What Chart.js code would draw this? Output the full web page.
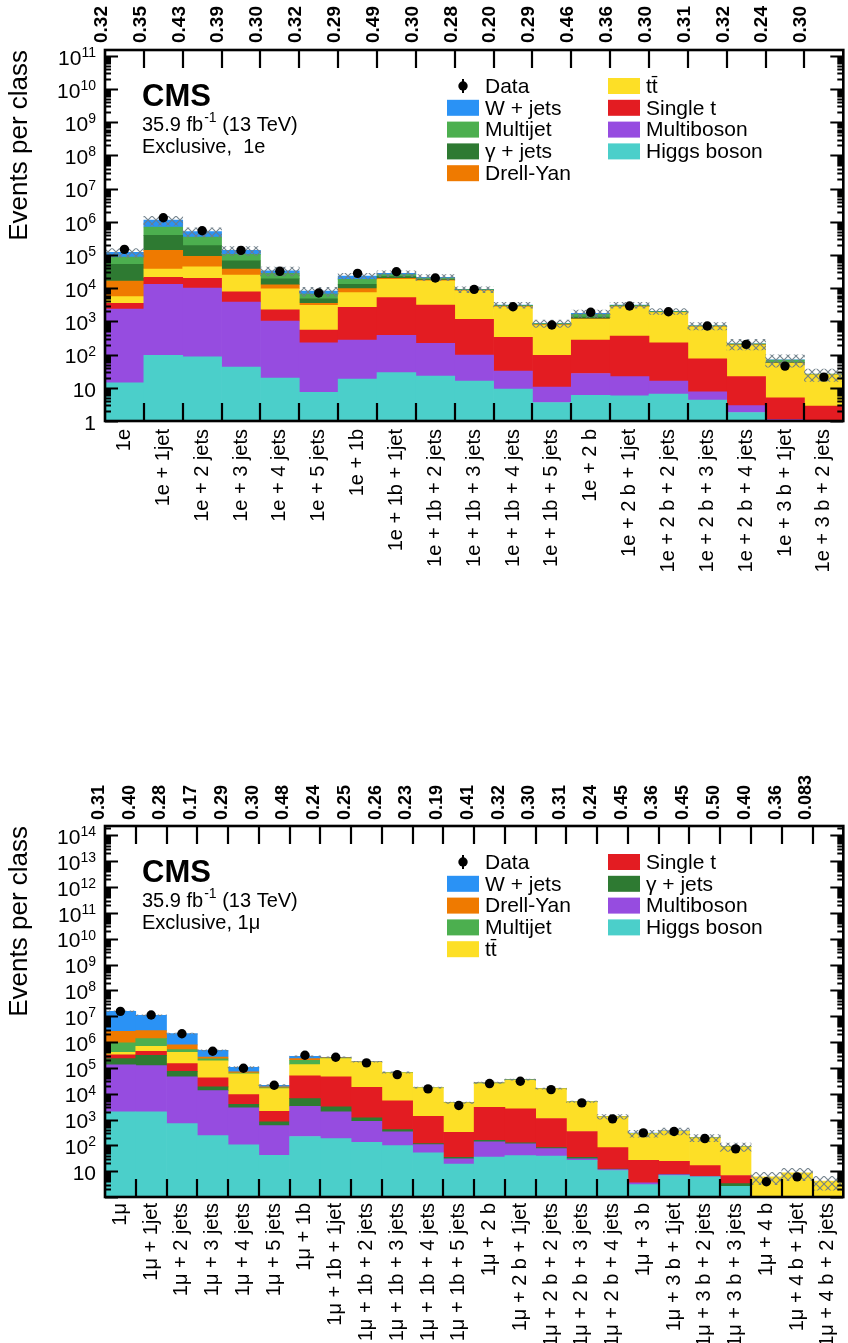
<!DOCTYPE html>
<html>
<head>
<meta charset="utf-8">
<script src="https://cdn.jsdelivr.net/npm/chart.js@4.4.1/dist/chart.umd.min.js"></script>
<style>
  html, body { margin: 0; padding: 0; background: #fff; }
  body { width: 848px; height: 1343px; position: relative; overflow: hidden; }
  .panel { position: absolute; left: 0; }
  #panelE { top: 0; }
  #panelM { top: 720px; }
</style>
</head>
<body>
<div class="panel" id="panelE"><canvas id="chartE" width="848" height="620"></canvas></div>
<div class="panel" id="panelM"><canvas id="chartM" width="848" height="623"></canvas></div>
<script>
const FONT = "'Liberation Sans', Arial, Helvetica, sans-serif";
const yMin = 1;

// ---- 1e channel ----
const classesE = ["1e", "1e + 1jet", "1e + 2 jets", "1e + 3 jets", "1e + 4 jets", "1e + 5 jets",
  "1e + 1b", "1e + 1b + 1jet", "1e + 1b + 2 jets", "1e + 1b + 3 jets", "1e + 1b + 4 jets", "1e + 1b + 5 jets",
  "1e + 2 b", "1e + 2 b + 1jet", "1e + 2 b + 2 jets", "1e + 2 b + 3 jets", "1e + 2 b + 4 jets",
  "1e + 3 b + 1jet", "1e + 3 b + 2 jets"];
const ratiosE = ["0.32", "0.35", "0.43", "0.39", "0.30", "0.32", "0.29", "0.49", "0.30", "0.28",
  "0.20", "0.29", "0.46", "0.36", "0.30", "0.31", "0.32", "0.24", "0.30"];
const yTicksE = [1, 1e1, 1e2, 1e3, 1e4, 1e5, 1e6, 1e7, 1e8, 1e9, 1e10, 1e11];

// stack tops (cumulative), bottom layer first
const higgsE = [14.2, 95, 85, 42, 19.7, 7.3, 18.4, 28.6, 22.7, 16, 9.2, 3.6, 5.9, 5.7, 6.5, 4.3, 1.8, 0, 0];
const multibosonE = [2360, 13100, 10100, 3840, 1030, 228, 275, 380, 219, 97, 32, 10.6, 27, 21.6, 16, 7.6, 2.9, 1.1, 0];
const singleTopE = [3510, 21300, 19800, 7850, 2250, 551, 2660, 5180, 3120, 1160, 332, 95, 275, 363, 228, 74, 21.6, 5.0, 2.8];
const ttbarE = [5560, 37900, 44400, 25000, 9660, 3050, 7340, 18500, 16800, 8410, 2770, 780, 1160, 2770, 1830, 692, 195, 55, 25];
const drellYanE = [16500, 138000, 91300, 37900, 12700, 3510, 9680, 19800, 17600, 8600, 2850, 800, 1200, 2820, 1860, 700, 197, 56, 25];
const gammaJetsE = [52500, 392000, 191000, 67400, 19300, 4830, 13100, 22300, 18600, 8800, 2920, 820, 1350, 2900, 1900, 710, 200, 58, 25.5];
const multijetE = [87000, 697000, 348000, 105000, 28000, 6690, 18500, 25600, 20100, 9100, 3030, 860, 1640, 3050, 1980, 730, 210, 69, 26];
const wJetsE = [121000, 1130000, 504000, 138000, 33600, 8240, 23300, 28000, 21300, 9250, 3120, 875, 1750, 3120, 2020, 740, 212, 70, 26];
const dataE = [148000, 1330000, 540000, 138000, 32300, 7160, 28000, 31400, 20300, 9250, 2770, 780, 1880, 2910, 1960, 727, 204, 45, 21];
const uncE = [0.3, 0.3, 0.3, 0.3, 0.3, 0.3, 0.2, 0.2, 0.2, 0.2, 0.2, 0.25, 0.25, 0.2, 0.2, 0.25, 0.35, 0.4, 0.4];

// ---- 1mu channel ----
const classesM = ["1μ", "1μ + 1jet", "1μ + 2 jets", "1μ + 3 jets", "1μ + 4 jets", "1μ + 5 jets",
  "1μ + 1b", "1μ + 1b + 1jet", "1μ + 1b + 2 jets", "1μ + 1b + 3 jets", "1μ + 1b + 4 jets", "1μ + 1b + 5 jets",
  "1μ + 2 b", "1μ + 2 b + 1jet", "1μ + 2 b + 2 jets", "1μ + 2 b + 3 jets", "1μ + 2 b + 4 jets",
  "1μ + 3 b", "1μ + 3 b + 1jet", "1μ + 3 b + 2 jets", "1μ + 3 b + 3 jets",
  "1μ + 4 b", "1μ + 4 b + 1jet", "1μ + 4 b + 2 jets"];
const ratiosM = ["0.31", "0.40", "0.28", "0.17", "0.29", "0.30", "0.48", "0.24", "0.25", "0.26", "0.23", "0.19",
  "0.41", "0.32", "0.30", "0.31", "0.24", "0.45", "0.36", "0.45", "0.50", "0.40", "0.36", "0.083"];
const yTicksM = [1e1, 1e2, 1e3, 1e4, 1e5, 1e6, 1e7, 1e8, 1e9, 1e10, 1e11, 1e12, 1e13, 1e14];

const higgsM = [1980, 1980, 697, 239, 105, 41, 219, 183, 132, 98, 51, 19, 35, 40, 38, 26, 10.6, 3.0, 6.8, 6.0, 2.6, 0, 0, 0];
const multibosonM = [130000, 122000, 44600, 13200, 2820, 583, 3260, 1980, 857, 333, 107, 30, 137, 114, 75, 30, 11.6, 3.5, 7.4, 6.2, 2.6, 0, 0, 0];
const gammaJetsM = [228000, 307000, 73600, 18300, 3890, 811, 6460, 3080, 1160, 408, 117, 34, 157, 125, 82, 34, 12, 3.5, 7.5, 6.3, 3.3, 0, 0, 0];
const singleTopM = [316000, 437000, 146000, 40700, 9230, 2080, 48800, 44600, 17700, 5260, 1340, 321, 2980, 2580, 1090, 342, 82, 26, 24, 16.5, 6.8, 0, 0, 0];
const ttbarM = [401000, 682000, 401000, 185000, 58200, 15700, 134000, 228000, 164000, 63800, 16700, 4400, 24600, 33000, 15300, 4810, 1270, 286, 351, 195, 88, 6.0, 8.6, 4.1];
const multijetM = [921000, 1350000, 508000, 221000, 63000, 17000, 196000, 240000, 168000, 65000, 16900, 4450, 25500, 34000, 15500, 4850, 1280, 290, 355, 198, 89, 6.0, 8.6, 4.1];
const drellYanM = [2600000, 2760000, 769000, 263000, 69700, 18300, 228000, 250000, 170000, 65500, 17000, 4480, 26000, 34500, 15600, 4870, 1290, 292, 357, 199, 89.5, 6.0, 8.6, 4.1];
const wJetsM = [15400000, 10800000, 2110000, 479000, 105000, 21100, 280000, 256000, 172000, 66000, 17100, 4500, 26500, 35000, 15700, 4900, 1300, 295, 360, 200, 90, 6.0, 8.6, 4.1];
const dataM = [15400000, 11100000, 2080000, 437000, 96100, 21100, 307000, 256000, 155000, 54800, 15300, 3470, 24600, 30200, 14400, 4400, 1060, 304, 342, 183, 73, 3.9, 6.0, null];
const uncM = [0.04, 0.04, 0.04, 0.05, 0.06, 0.06, 0.05, 0.04, 0.04, 0.05, 0.05, 0.06, 0.05, 0.05, 0.05, 0.06, 0.2, 0.3, 0.3, 0.3, 0.35, 0.5, 0.5, 0.55];

const colors = {
  "W + jets": "#2a92f5",
  "Multijet": "#4caf4f",
  "γ + jets": "#2e7a32",
  "Drell-Yan": "#ef7a00",
  "tt̄": "#fddf26",
  "Single t": "#e31c22",
  "Multiboson": "#964ce0",
  "Higgs boson": "#4bcfca",
};

function makeHatch() {
  const c = document.createElement("canvas");
  c.width = 8; c.height = 8;
  const g = c.getContext("2d");
  g.strokeStyle = "rgba(110,125,135,0.95)";
  g.lineWidth = 1.1;
  g.beginPath();
  g.moveTo(0, 0); g.lineTo(8, 8);
  g.moveTo(8, 0); g.lineTo(0, 8);
  g.stroke();
  return g.createPattern(c, "repeat");
}

// frame, inward ticks, y labels with exponents, CMS label and two-column legend
const cmsDecor = {
  id: "cmsDecor",
  afterDraw(chart, args, opts) {
    const { ctx, chartArea: a, scales } = chart;
    const x = scales.x, y = scales.y;
    ctx.save();
    ctx.strokeStyle = "#000";
    ctx.fillStyle = "#000";

    // bin edge ticks, bottom and top
    ctx.lineWidth = 2.2;
    ctx.beginPath();
    const n = chart.data.labels.length;
    for (let i = 1; i < n; i++) {
      const px = Math.round((x.getPixelForValue(i - 1) + x.getPixelForValue(i)) / 2);
      ctx.moveTo(px, a.bottom); ctx.lineTo(px, a.bottom - 18);
      ctx.moveTo(px, a.top); ctx.lineTo(px, a.top + 18);
    }
    ctx.stroke();

    // decade and minor ticks, left and right
    ctx.lineWidth = 2;
    ctx.beginPath();
    const lo = Math.floor(Math.log10(y.min)), hi = Math.ceil(Math.log10(y.max));
    for (let e = lo; e <= hi; e++) {
      for (let k = 1; k <= 9; k++) {
        const v = k * Math.pow(10, e);
        if (v < y.min || v > y.max) continue;
        const py = Math.round(y.getPixelForValue(v)) + 0.5;
        const len = k === 1 ? 13 : 6;
        ctx.moveTo(a.left, py); ctx.lineTo(a.left + len, py);
        ctx.moveTo(a.right, py); ctx.lineTo(a.right - len, py);
      }
    }
    ctx.stroke();

    ctx.lineWidth = 2.6;
    ctx.strokeRect(a.left, a.top, a.right - a.left, a.bottom - a.top);

    // y tick labels: 1, 10, 10^n
    ctx.textAlign = "right";
    opts.yTicks.forEach(v => {
      const py = y.getPixelForValue(v);
      const e = Math.round(Math.log10(v));
      let rx = a.left - 9;
      if (e >= 2) {
        ctx.font = "14px " + FONT;
        ctx.textBaseline = "alphabetic";
        ctx.fillText(String(e), rx, py + 1);
        rx -= ctx.measureText(String(e)).width;
      }
      ctx.font = "21px " + FONT;
      ctx.textBaseline = "middle";
      ctx.fillText(e === 0 ? "1" : "10", rx, py + 3);
    });

    // CMS label
    ctx.textAlign = "left";
    ctx.textBaseline = "alphabetic";
    const lx = a.left + 37;
    ctx.font = "bold 31px " + FONT;
    ctx.fillText("CMS", lx, a.top + 56);
    ctx.font = "20px " + FONT;
    ctx.fillText("35.9 fb", lx, a.top + 80.5);
    let tx = lx + ctx.measureText("35.9 fb").width + 1;
    ctx.font = "14px " + FONT;
    ctx.fillText("-1", tx, a.top + 72);
    tx += ctx.measureText("-1").width;
    ctx.font = "20px " + FONT;
    ctx.fillText(" (13 TeV)", tx, a.top + 80.5);
    ctx.fillText(opts.channel, lx, a.top + 103);

    // legend
    ctx.font = "21px " + FONT;
    ctx.textBaseline = "middle";
    opts.legend.forEach((col, ci) => {
      const bx = a.left + (ci === 0 ? 342 : 503);
      col.forEach((name, ri) => {
        const cy = a.top + 36 + ri * 21.8;
        if (name === "Data") {
          ctx.lineWidth = 2;
          ctx.beginPath();
          ctx.moveTo(bx + 16, cy - 7); ctx.lineTo(bx + 16, cy + 7);
          ctx.stroke();
          ctx.beginPath();
          ctx.arc(bx + 16, cy, 4.7, 0, Math.PI * 2);
          ctx.fill();
        } else {
          ctx.fillStyle = colors[name];
          ctx.fillRect(bx, cy - 8, 32, 16);
          ctx.fillStyle = "#000";
        }
        ctx.fillText(name, bx + 38, cy + 1);
      });
    });
    ctx.restore();
  }
};

function buildChart(canvasId, cfg) {
  const hatch = makeHatch();
  const datasets = [];
  cfg.layers.forEach((layer, i) => {
    const below = i === 0 ? null : cfg.layers[i - 1].tops;
    datasets.push({
      type: "bar",
      label: layer.name,
      // log axis: stacks start at the axis floor
      data: layer.tops.map((v, k) => {
        const start = Math.max(below ? below[k] : 0, yMin);
        return v > start ? [start, v] : null;
      }),
      backgroundColor: colors[layer.name],
      borderWidth: 0,
      grouped: false,
      categoryPercentage: 1,
      barPercentage: 1,
      order: 3,
    });
  });
  const total = cfg.layers[cfg.layers.length - 1].tops;
  datasets.push({
    type: "bar",
    label: "Uncertainty",
    data: total.map((v, k) => [v * (1 - cfg.unc[k]), v * (1 + cfg.unc[k])]),
    backgroundColor: hatch,
    borderWidth: 0,
    grouped: false,
    categoryPercentage: 1,
    barPercentage: 1,
    order: 2,
  });
  datasets.push({
    type: "line",
    label: "Data",
    data: cfg.data,
    showLine: false,
    pointRadius: 4.7,
    pointBackgroundColor: "#000",
    pointBorderWidth: 0,
    order: 1,
  });

  return new Chart(document.getElementById(canvasId), {
    type: "bar",
    data: { labels: cfg.classes, datasets },
    options: {
      responsive: false,
      animation: false,
      events: [],
      layout: { padding: { left: 0, right: 1, top: 0, bottom: 0 } },
      plugins: {
        legend: { display: false },
        tooltip: { enabled: false },
        cmsDecor: { channel: cfg.channel, legend: cfg.legend, yTicks: cfg.yTicks },
      },
      scales: {
        x: {
          type: "category",
          position: "bottom",
          offset: true,
          grid: { display: false, drawTicks: false },
          border: { display: false },
          ticks: {
            autoSkip: false, minRotation: 90, maxRotation: 90,
            color: "#000", font: { family: FONT, size: 20 }, padding: cfg.xPad,
          },
          afterFit: s => { s.height = cfg.bottomH; s.paddingLeft = 0; s.paddingRight = 0; },
        },
        x2: {
          type: "category",
          position: "top",
          offset: true,
          labels: cfg.ratios,
          grid: { display: false, drawTicks: false },
          border: { display: false },
          ticks: {
            autoSkip: false, minRotation: 90, maxRotation: 90,
            color: "#000", font: { family: FONT, size: cfg.ratioSize, weight: "bold" }, padding: cfg.topPad,
          },
          afterFit: s => { s.height = cfg.topH; s.paddingLeft = 0; s.paddingRight = 0; },
        },
        y: {
          type: "logarithmic",
          min: yMin,
          max: cfg.yMax,
          grid: { display: false, drawTicks: false },
          border: { display: false },
          afterBuildTicks: s => { s.ticks = cfg.yTicks.map(v => ({ value: v })); },
          ticks: { display: false },
          title: {
            display: true, text: "Events per class", align: "end", color: "#000",
            font: { family: FONT, size: 26 }, padding: { top: 4, bottom: 0 },
          },
          afterFit: s => { s.width = 105; s.paddingTop = 0; s.paddingBottom = 0; },
        },
      },
    },
    plugins: [cmsDecor],
  });
}

buildChart("chartE", {
  classes: classesE,
  ratios: ratiosE,
  yTicks: yTicksE,
  yMax: 1.5e11,
  layers: [
    { name: "Higgs boson", tops: higgsE },
    { name: "Multiboson", tops: multibosonE },
    { name: "Single t", tops: singleTopE },
    { name: "tt̄", tops: ttbarE },
    { name: "Drell-Yan", tops: drellYanE },
    { name: "γ + jets", tops: gammaJetsE },
    { name: "Multijet", tops: multijetE },
    { name: "W + jets", tops: wJetsE },
  ],
  data: dataE,
  unc: uncE,
  channel: "Exclusive,  1e",
  legend: [["Data", "W + jets", "Multijet", "γ + jets", "Drell-Yan"],
           ["tt̄", "Single t", "Multiboson", "Higgs boson"]],
  topH: 50, bottomH: 199, xPad: 8, topPad: 7, ratioSize: 19,
});

buildChart("chartM", {
  classes: classesM,
  ratios: ratiosM,
  yTicks: yTicksM,
  yMax: 2.3e14,
  layers: [
    { name: "Higgs boson", tops: higgsM },
    { name: "Multiboson", tops: multibosonM },
    { name: "γ + jets", tops: gammaJetsM },
    { name: "Single t", tops: singleTopM },
    { name: "tt̄", tops: ttbarM },
    { name: "Multijet", tops: multijetM },
    { name: "Drell-Yan", tops: drellYanM },
    { name: "W + jets", tops: wJetsM },
  ],
  data: dataM,
  unc: uncM,
  channel: "Exclusive, 1μ",
  legend: [["Data", "W + jets", "Drell-Yan", "Multijet", "tt̄"],
           ["Single t", "γ + jets", "Multiboson", "Higgs boson"]],
  topH: 106, bottomH: 146, xPad: 6, topPad: 6, ratioSize: 18,
});
</script>
</body>
</html>
